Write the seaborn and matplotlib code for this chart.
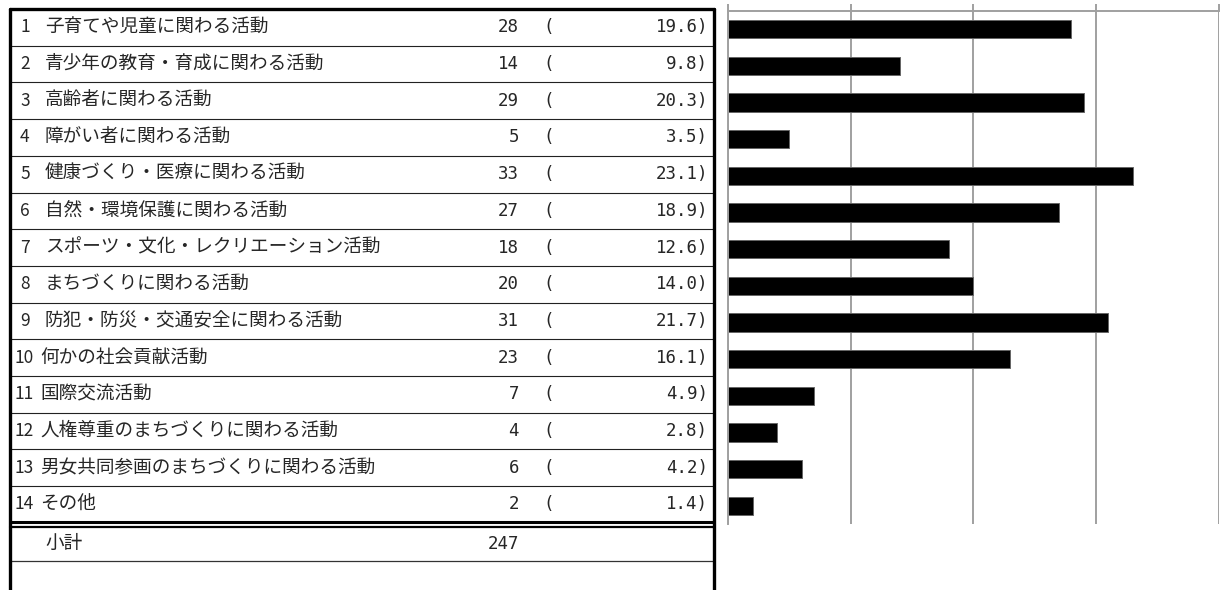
import pandas as pd
import seaborn as sns
import matplotlib.pyplot as plt

activities = [
    "子育てや児童に関わる活動",
    "青少年の教育・育成に関わる活動",
    "高齢者に関わる活動",
    "障がい者に関わる活動",
    "健康づくり・医療に関わる活動",
    "自然・環境保護に関わる活動",
    "スポーツ・文化・レクリエーション活動",
    "まちづくりに関わる活動",
    "防犯・防災・交通安全に関わる活動",
    "何かの社会貢献活動",
    "国際交流活動",
    "人権尊重のまちづくりに関わる活動",
    "男女共同参画のまちづくりに関わる活動",
    "その他",
]
counts = [28, 14, 29, 5, 33, 27, 18, 20, 31, 23, 7, 4, 6, 2]
percents = [19.6, 9.8, 20.3, 3.5, 23.1, 18.9, 12.6, 14.0, 21.7, 16.1, 4.9, 2.8, 4.2, 1.4]
subtotal_label = "小計"
subtotal = 247
xticks = [0, 10, 20, 30, 40]

sns.set_theme(style="white")
plt.rcParams['font.family'] = ['Noto Sans CJK JP', 'DejaVu Sans']

df = pd.DataFrame({"activity": activities, "count": counts})

W, H = 1232, 590
fig = plt.figure(figsize=(W / 100, H / 100), dpi=100)

# table on the left, drawn in pixel coords
tab = fig.add_axes([0, 0, 1, 1])
tab.set_xlim(0, W)
tab.set_ylim(H, 0)
tab.axis("off")

top = 9
row_h = 36.7
n = len(activities)
xl, xr = 10, 714

for k in range(1, n):
    tab.plot([xl, xr], [top + k * row_h] * 2, color="#222222", lw=0.8)
# double line under the last row
y_end = top + n * row_h
tab.plot([xl, xr], [y_end - 0.5] * 2, color="black", lw=2.2)
tab.plot([xl, xr], [y_end + 4] * 2, color="black", lw=1.6)
tab.plot([xl, xr], [y_end + 38] * 2, color="#333333", lw=0.9)
# outer border
tab.plot([xl, xr], [top, top], color="black", lw=2.4)
tab.plot([xl, xl], [top, H], color="black", lw=2.4)
tab.plot([xr, xr], [top, H], color="black", lw=2.4)

mono = dict(fontsize=12.5, family="DejaVu Sans Mono", va="center")
for i, (name, c, p) in enumerate(zip(activities, counts, percents)):
    yc = top + (i + 0.5) * row_h
    num = str(i + 1)
    nx, lx = (20, 45) if i < 9 else (14, 40)
    tab.text(nx, yc, num, fontsize=12.5, va="center", ha="left")
    tab.text(lx, yc, name, fontsize=13.4, va="center", ha="left")
    tab.text(519, yc, str(c), ha="right", **mono)
    tab.text(543, yc, "(", ha="left", **mono)
    tab.text(708, yc, f"{p:.1f})", ha="right", **mono)

ys = y_end + 4 + 17
tab.text(45, ys, subtotal_label, fontsize=13.4, va="center", ha="left")
tab.text(519, ys, str(subtotal), ha="right", **mono)

# bar chart on the right
ax_l, ax_r, ax_t, ax_b = 728, 1218.5, 11, 524
ax = fig.add_axes([ax_l / W, (H - ax_b) / H, (ax_r - ax_l) / W, (ax_b - ax_t) / H])
sns.barplot(data=df, x="count", y="activity", orient="h", color="black",
            width=0.5, edgecolor="#666666", linewidth=0.7, saturation=1, ax=ax)
ax.set_xlim(0, 40)
ax.set_xticks(xticks)
ax.xaxis.tick_top()
ax.tick_params(axis="x", which="both", top=True, bottom=False, length=5, width=1.4,
               color="#a0a0a0", labeltop=False, labelbottom=False, direction="out")
ax.tick_params(axis="y", left=False, labelleft=False)
ax.grid(axis="x", color="#a0a0a0", lw=1.4)
ax.grid(axis="y", visible=False)
ax.set_axisbelow(True)
ax.set_xlabel("")
ax.set_ylabel("")
for s in ["left", "top"]:
    ax.spines[s].set_color("#a0a0a0")
    ax.spines[s].set_linewidth(1.4)
ax.spines["right"].set_visible(False)
ax.spines["bottom"].set_visible(False)
ax.patch.set_alpha(0)

fig.savefig("out.png", dpi=100)
